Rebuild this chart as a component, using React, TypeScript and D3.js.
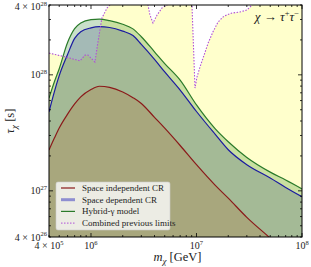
import React from 'react';
import * as d3 from 'd3';

// dark matter mass grid [GeV] shared by the three model curves
const massGrid = [4e5, 4.5e5, 5e5, 6e5, 7e5, 8e5, 1e6, 1.2e6, 1.5e6, 2e6, 2.5e6, 3e6, 4e6, 5e6, 7e6, 1e7, 1.5e7, 2e7, 3e7, 5e7, 7e7, 1e8];

// lifetime limits [s]
const spaceIndepTau = [2.25e27, 2.85e27, 3.48e27, 4.58e27, 5.61e27, 6.46e27, 7.47e27, 7.97e27, 7.81e27, 7.12e27, 6.36e27, 5.67e27, 4.3e27, 3.47e27, 2.46e27, 1.68e27, 1.12e27, 8.65e26, 5.91e26, 3.91e26, 2.97e26, 2.2e26];
const spaceDepTau = [4.79e27, 7.16e27, 9.84e27, 1.5e28, 2.06e28, 2.35e28, 2.54e28, 2.6e28, 2.56e28, 2.38e28, 2.18e28, 1.83e28, 1.36e28, 1.06e28, 7.4e27, 4.83e27, 3.08e27, 2.26e27, 1.68e27, 1.29e27, 1.07e27, 8.9e26];
const hybridTau = [6.3e27, 8.71e27, 1.13e28, 1.9e28, 2.5e28, 2.8e28, 2.99e28, 3.02e28, 2.93e28, 2.73e28, 2.49e28, 2.13e28, 1.58e28, 1.25e28, 9.0e27, 5.5e27, 3.44e27, 2.65e27, 1.94e27, 1.45e27, 1.24e27, 1.04e27];

// combined previous limits (runs above the frame where it leaves the plot)
const prevMass = [4e5, 5.68e5, 7.87e5, 8.78e5, 9.37e5, 1.09e6, 1.16e6, 1.27e6, 1.42e6, 1.51e6, 1.7e6, 3.2e6, 3.47e6, 3.62e6, 3.87e6, 4.23e6, 4.71e6, 5.25e6, 6e6, 8.5e6, 9.06e6, 9.68e6, 1.01e7, 1.08e7, 1.18e7, 1.29e7, 1.43e7, 1.6e7, 1.82e7, 2.17e7, 2.58e7, 3.01e7, 3.36e7, 5e7, 1e8];
const prevTau = [1.54e28, 1.43e28, 1.32e28, 1.48e28, 1.48e28, 1.29e28, 1.88e28, 3.09e28, 3.77e28, 4.0e28, 5e28, 5e28, 4.0e28, 3.28e28, 2.8e28, 3.28e28, 3.77e28, 4.0e28, 5e28, 5e28, 4.0e28, 7.69e27, 9.57e27, 1.17e28, 1.48e28, 1.88e28, 2.34e28, 2.85e28, 3.21e28, 3.41e28, 3.48e28, 3.62e28, 4.0e28, 6e28, 6e28];

const xTickLabels = [
  { v: 4e5, mant: '4 × ', exp: '5' },
  { v: 1e6, mant: '', exp: '6' },
  { v: 1e7, mant: '', exp: '7' },
  { v: 1e8, mant: '', exp: '8' },
];
const yTickLabels = [
  { v: 4e26, mant: '4 × ', exp: '26' },
  { v: 1e27, mant: '', exp: '27' },
  { v: 1e28, mant: '', exp: '28' },
  { v: 4e28, mant: '4 × ', exp: '28' },
];

const legendItems = [
  { label: 'Space independent CR', color: '#8b1a1a', width: 1.2, dash: null, opacity: 1 },
  { label: 'Space dependent CR', color: '#7777cc', width: 3, dash: null, opacity: 0.8 },
  { label: 'Hybrid-γ model', color: '#2a7a2a', width: 1.2, dash: null, opacity: 1 },
  { label: 'Combined previous limits', color: '#b050d8', width: 1, dash: '1.5,1.5', opacity: 1 },
];

const W = 311;
const H = 267;
const margin = { top: 5, right: 9, bottom: 30, left: 49 };
const FONT = '"Liberation Serif", "DejaVu Serif", serif';

export default function App() {
  const x = d3.scaleLog().domain([4e5, 1e8]).range([margin.left, W - margin.right]);
  const y = d3.scaleLog().domain([4e26, 4e28]).range([H - margin.bottom, margin.top]);
  const [x0, x1] = x.range();
  const [yb, yt] = y.range();

  const series = (taus: number[]) => massGrid.map((m, i) => [m, taus[i]] as [number, number]);
  const line = d3.line<[number, number]>().x((d) => x(d[0])).y((d) => y(d[1])).curve(d3.curveMonotoneX);
  const area = d3.area<[number, number]>().x((d) => x(d[0])).y0(yb + 40).y1((d) => y(d[1])).curve(d3.curveMonotoneX);
  const prevData = prevMass.map((m, i) => [m, prevTau[i]] as [number, number]);
  const prevLine = d3.line<[number, number]>().x((d) => x(d[0])).y((d) => y(d[1]));
  const prevArea = d3.area<[number, number]>().x((d) => x(d[0])).y0(yb + 40).y1((d) => y(d[1]));

  const isMajor = (v: number) => Math.abs(Math.log10(v) - Math.round(Math.log10(v))) < 1e-6;
  const xTicks = x.ticks();
  const yTicks = y.ticks();

  const lx = 56, ly = 182;

  return (
    <svg width={W} height={H} style={{ position: 'absolute', left: 0, top: 0, background: '#fff' }} fontFamily={FONT}>
      <defs>
        <clipPath id="plot">
          <rect x={x0} y={yt} width={x1 - x0} height={yb - yt} />
        </clipPath>
      </defs>
      <g clipPath="url(#plot)">
        <path d={prevArea(prevData) || ''} fill="#ffffcc" />
        <path d={area(series(hybridTau)) || ''} fill="rgb(0,110,0)" fillOpacity={0.21} />
        <path d={area(series(spaceDepTau)) || ''} fill="rgb(20,35,110)" fillOpacity={0.2} />
        <path d={area(series(spaceIndepTau)) || ''} fill="rgb(180,124,68)" fillOpacity={0.3} />
        <path d={line(series(hybridTau)) || ''} fill="none" stroke="#2a7a2a" strokeWidth={1.2} />
        <path d={line(series(spaceDepTau)) || ''} fill="none" stroke="#1a1aa0" strokeWidth={1.2} />
        <path d={line(series(spaceIndepTau)) || ''} fill="none" stroke="#8b1a1a" strokeWidth={1.2} />
        <path d={prevLine(prevData) || ''} fill="none" stroke="#b050d8" strokeWidth={1.1} strokeDasharray="1.5,1.5" />
      </g>

      {/* ticks on all four sides, pointing inward */}
      {xTicks.map((t, i) => {
        const len = isMajor(t) ? 4 : 2;
        return (
          <g key={'xt' + i} stroke="#000" strokeWidth={0.8}>
            <line x1={x(t)} x2={x(t)} y1={yb} y2={yb - len} />
            <line x1={x(t)} x2={x(t)} y1={yt} y2={yt + len} />
          </g>
        );
      })}
      {yTicks.map((t, i) => {
        const len = isMajor(t) ? 4 : 2;
        return (
          <g key={'yt' + i} stroke="#000" strokeWidth={0.8}>
            <line x1={x0} x2={x0 + len} y1={y(t)} y2={y(t)} />
            <line x1={x1} x2={x1 - len} y1={y(t)} y2={y(t)} />
          </g>
        );
      })}
      <rect x={x0} y={yt} width={x1 - x0} height={yb - yt} fill="none" stroke="#000" strokeWidth={1} />

      {xTickLabels.map((t, i) => (
        <text key={'xl' + i} x={x(t.v)} y={yb + 12} fontSize={10} textAnchor="middle" fill="#222">
          {t.mant}10<tspan dy={-4.5} fontSize={6.5}>{t.exp}</tspan>
        </text>
      ))}
      {yTickLabels.map((t, i) => (
        <text key={'yl' + i} x={x0 - 2} y={Math.max(y(t.v) + 3.5, 10)} fontSize={10} textAnchor="end" fill="#222">
          {t.mant}10<tspan dy={-4.5} fontSize={6.5}>{t.exp}</tspan>
        </text>
      ))}

      <text x={(x0 + x1) / 2 + 2} y={H - 6} fontSize={12.5} textAnchor="middle" fill="#222">
        <tspan fontStyle="italic">m</tspan>
        <tspan dy={2.5} fontSize={9} fontStyle="italic">χ</tspan>
        <tspan dy={-2.5}> [GeV]</tspan>
      </text>
      <text transform={`translate(14,${(yt + yb) / 2}) rotate(-90)`} fontSize={12.5} textAnchor="middle" fill="#222">
        <tspan fontStyle="italic">τ</tspan>
        <tspan dy={2.5} fontSize={9} fontStyle="italic">χ</tspan>
        <tspan dy={-2.5}> [s]</tspan>
      </text>

      <text x={x1 - 3} y={21} fontSize={13} textAnchor="end" fill="#222">
        <tspan fontStyle="italic">χ</tspan> → <tspan fontStyle="italic">τ</tspan>
        <tspan dy={-5} fontSize={8.5}>+</tspan>
        <tspan dy={5} fontStyle="italic">τ</tspan>
        <tspan dy={-5} fontSize={8.5}>−</tspan>
      </text>

      <g transform={`translate(${lx},${ly})`}>
        <rect x={0} y={0} width={114} height={48} rx={2} fill="#efefea" fillOpacity={0.95} stroke="#cfcfcf" strokeWidth={0.6} />
        {legendItems.map((d, i) => (
          <g key={d.label} transform={`translate(0,${6 + i * 11.7})`}>
            <line x1={5} x2={19} y1={0} y2={0} stroke={d.color} strokeWidth={d.width} strokeOpacity={d.opacity} strokeDasharray={d.dash || undefined} />
            <text x={26} y={3} fontSize={9} fill="#222">{d.label}</text>
          </g>
        ))}
      </g>
    </svg>
  );
}
